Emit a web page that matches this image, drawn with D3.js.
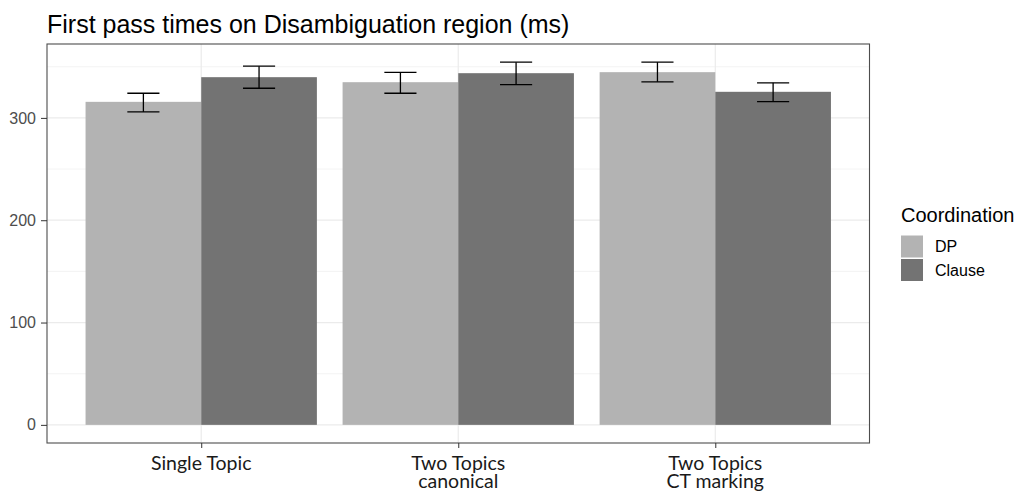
<!DOCTYPE html>
<html>
<head>
<meta charset="utf-8">
<script src="https://cdn.jsdelivr.net/npm/d3@7"></script>
<style>
  body { margin: 0; background: #fff; }
  svg { display: block; }
</style>
</head>
<body>
<div id="chart"></div>
<script>
// Data
const conditions = ["Single Topic", "Two Topics\ncanonical", "Two Topics\nCT marking"];
const groups = ["DP", "Clause"];
const groupColours = ["#b3b3b3", "#737373"];
const meansDP = [315.7, 334.9, 344.7];
const meansClause = [339.8, 343.7, 325.5];
const lowerDP = [305.9, 324.1, 335.3];
const upperDP = [324.1, 344.4, 354.5];
const lowerClause = [329.0, 332.6, 316.0];
const upperClause = [350.6, 354.5, 334.3];
const yTicks = [0, 100, 200, 300];
const yMinorTicks = [50, 150, 250, 350];

const data = [];
conditions.forEach((c, i) => {
  data.push({ cond: i + 1, group: "DP", mean: meansDP[i], lo: lowerDP[i], hi: upperDP[i] });
  data.push({ cond: i + 1, group: "Clause", mean: meansClause[i], lo: lowerClause[i], hi: upperClause[i] });
});

const width = 1016, height = 494;
const margin = { top: 44, right: 146.5, bottom: 51, left: 47 };
const innerW = width - margin.left - margin.right;
const innerH = height - margin.top - margin.bottom;

const svg = d3.select("#chart").append("svg")
  .attr("width", width)
  .attr("height", height);

const chart = svg.append("g")
  .attr("transform", `translate(${margin.left},${margin.top})`);

// ggplot-style discrete scale: positions 1..n, expanded by 0.6 each side
const xScale = d3.scaleLinear()
  .domain([0.4, conditions.length + 0.6])
  .range([0, innerW]);
const step = xScale(2) - xScale(1);
const barW = step * 0.45;

// 5% expansion on continuous y
const yMax = d3.max(data, d => d.hi);
const pad = yMax * 0.05;
const yScale = d3.scaleLinear()
  .domain([-pad, yMax + pad])
  .range([innerH, 0]);

const colour = d3.scaleOrdinal().domain(groups).range(groupColours);

// Grid lines
chart.selectAll(".minor-grid")
  .data(yMinorTicks)
  .join("line")
  .attr("x1", 0).attr("x2", innerW)
  .attr("y1", d => yScale(d)).attr("y2", d => yScale(d))
  .attr("stroke", "#f0f0f0")
  .attr("stroke-width", 0.8);

chart.selectAll(".major-grid-y")
  .data(yTicks)
  .join("line")
  .attr("x1", 0).attr("x2", innerW)
  .attr("y1", d => yScale(d)).attr("y2", d => yScale(d))
  .attr("stroke", "#ebebeb")
  .attr("stroke-width", 1.2);

chart.selectAll(".major-grid-x")
  .data(d3.range(1, conditions.length + 1))
  .join("line")
  .attr("y1", 0).attr("y2", innerH)
  .attr("x1", d => xScale(d)).attr("x2", d => xScale(d))
  .attr("stroke", "#ebebeb")
  .attr("stroke-width", 1.2);

// Bars
const offset = g => (g === "DP" ? -barW : 0);
chart.selectAll(".bar")
  .data(data)
  .join("rect")
  .attr("x", d => xScale(d.cond) + offset(d.group))
  .attr("width", barW)
  .attr("y", d => yScale(d.mean))
  .attr("height", d => yScale(0) - yScale(d.mean))
  .attr("fill", d => colour(d.group));

// Error bars
const capW = step * 0.125;
const errG = chart.selectAll(".err")
  .data(data)
  .join("g")
  .attr("transform", d => `translate(${xScale(d.cond) + offset(d.group) + barW / 2},0)`)
  .attr("stroke", "#000")
  .attr("stroke-width", 1.3);
errG.append("line")
  .attr("y1", d => yScale(d.lo)).attr("y2", d => yScale(d.hi));
errG.append("line")
  .attr("x1", -capW / 2).attr("x2", capW / 2)
  .attr("y1", d => yScale(d.hi)).attr("y2", d => yScale(d.hi));
errG.append("line")
  .attr("x1", -capW / 2).attr("x2", capW / 2)
  .attr("y1", d => yScale(d.lo)).attr("y2", d => yScale(d.lo));

// Panel border
chart.append("rect")
  .attr("width", innerW)
  .attr("height", innerH)
  .attr("fill", "none")
  .attr("stroke", "#4d4d4d")
  .attr("stroke-width", 1.1);

// Axes
const yAxis = d3.axisLeft(yScale).tickValues(yTicks).tickSize(6).tickPadding(5);
const yAxisGroup = chart.append("g").call(yAxis);
yAxisGroup.select(".domain").remove();
yAxisGroup.selectAll("line").attr("stroke", "#333");
yAxisGroup.selectAll("text")
  .attr("fill", "#4d4d4d")
  .style("font-family", "'Liberation Sans', Arial, sans-serif")
  .style("font-size", "16px");

const xAxis = d3.axisBottom(xScale)
  .tickValues(d3.range(1, conditions.length + 1))
  .tickSize(5)
  .tickFormat("");
const xAxisGroup = chart.append("g")
  .attr("transform", `translate(0,${innerH})`)
  .call(xAxis);
xAxisGroup.select(".domain").remove();
xAxisGroup.selectAll("line").attr("stroke", "#333");

// Multi-line x labels
const xLabels = chart.append("g")
  .selectAll("text")
  .data(conditions)
  .join("text")
  .attr("x", (d, i) => xScale(i + 1))
  .attr("y", innerH + 26.5)
  .attr("text-anchor", "middle")
  .attr("fill", "#1a1a1a")
  .style("font-family", "Lato, 'Open Sans', sans-serif")
  .style("font-size", "19.5px");
xLabels.each(function (d) {
  const lines = d.split("\n");
  const t = d3.select(this);
  lines.forEach((line, j) => {
    t.append("tspan")
      .attr("x", t.attr("x"))
      .attr("dy", j === 0 ? 0 : 18.5)
      .text(line);
  });
});

// Title
svg.append("text")
  .attr("x", 47)
  .attr("y", 33)
  .attr("fill", "#000")
  .style("font-family", "'Liberation Sans', Arial, sans-serif")
  .style("font-size", "25px")
  .text("First pass times on Disambiguation region (ms)");

// Legend
const legend = svg.append("g").attr("transform", "translate(901,0)");
legend.append("text")
  .attr("x", 0)
  .attr("y", 222)
  .attr("fill", "#000")
  .style("font-family", "'Liberation Sans', Arial, sans-serif")
  .style("font-size", "20px")
  .text("Coordination");

const keys = legend.selectAll(".key")
  .data(groups)
  .join("g")
  .attr("transform", (d, i) => `translate(0,${235.5 + i * 23.5})`);
keys.append("rect")
  .attr("width", 22)
  .attr("height", 22)
  .attr("fill", d => colour(d));
keys.append("text")
  .attr("x", 34)
  .attr("y", 11)
  .attr("dy", "0.36em")
  .attr("fill", "#000")
  .style("font-family", "'Liberation Sans', Arial, sans-serif")
  .style("font-size", "16px")
  .text(d => d);
</script>
</body>
</html>
